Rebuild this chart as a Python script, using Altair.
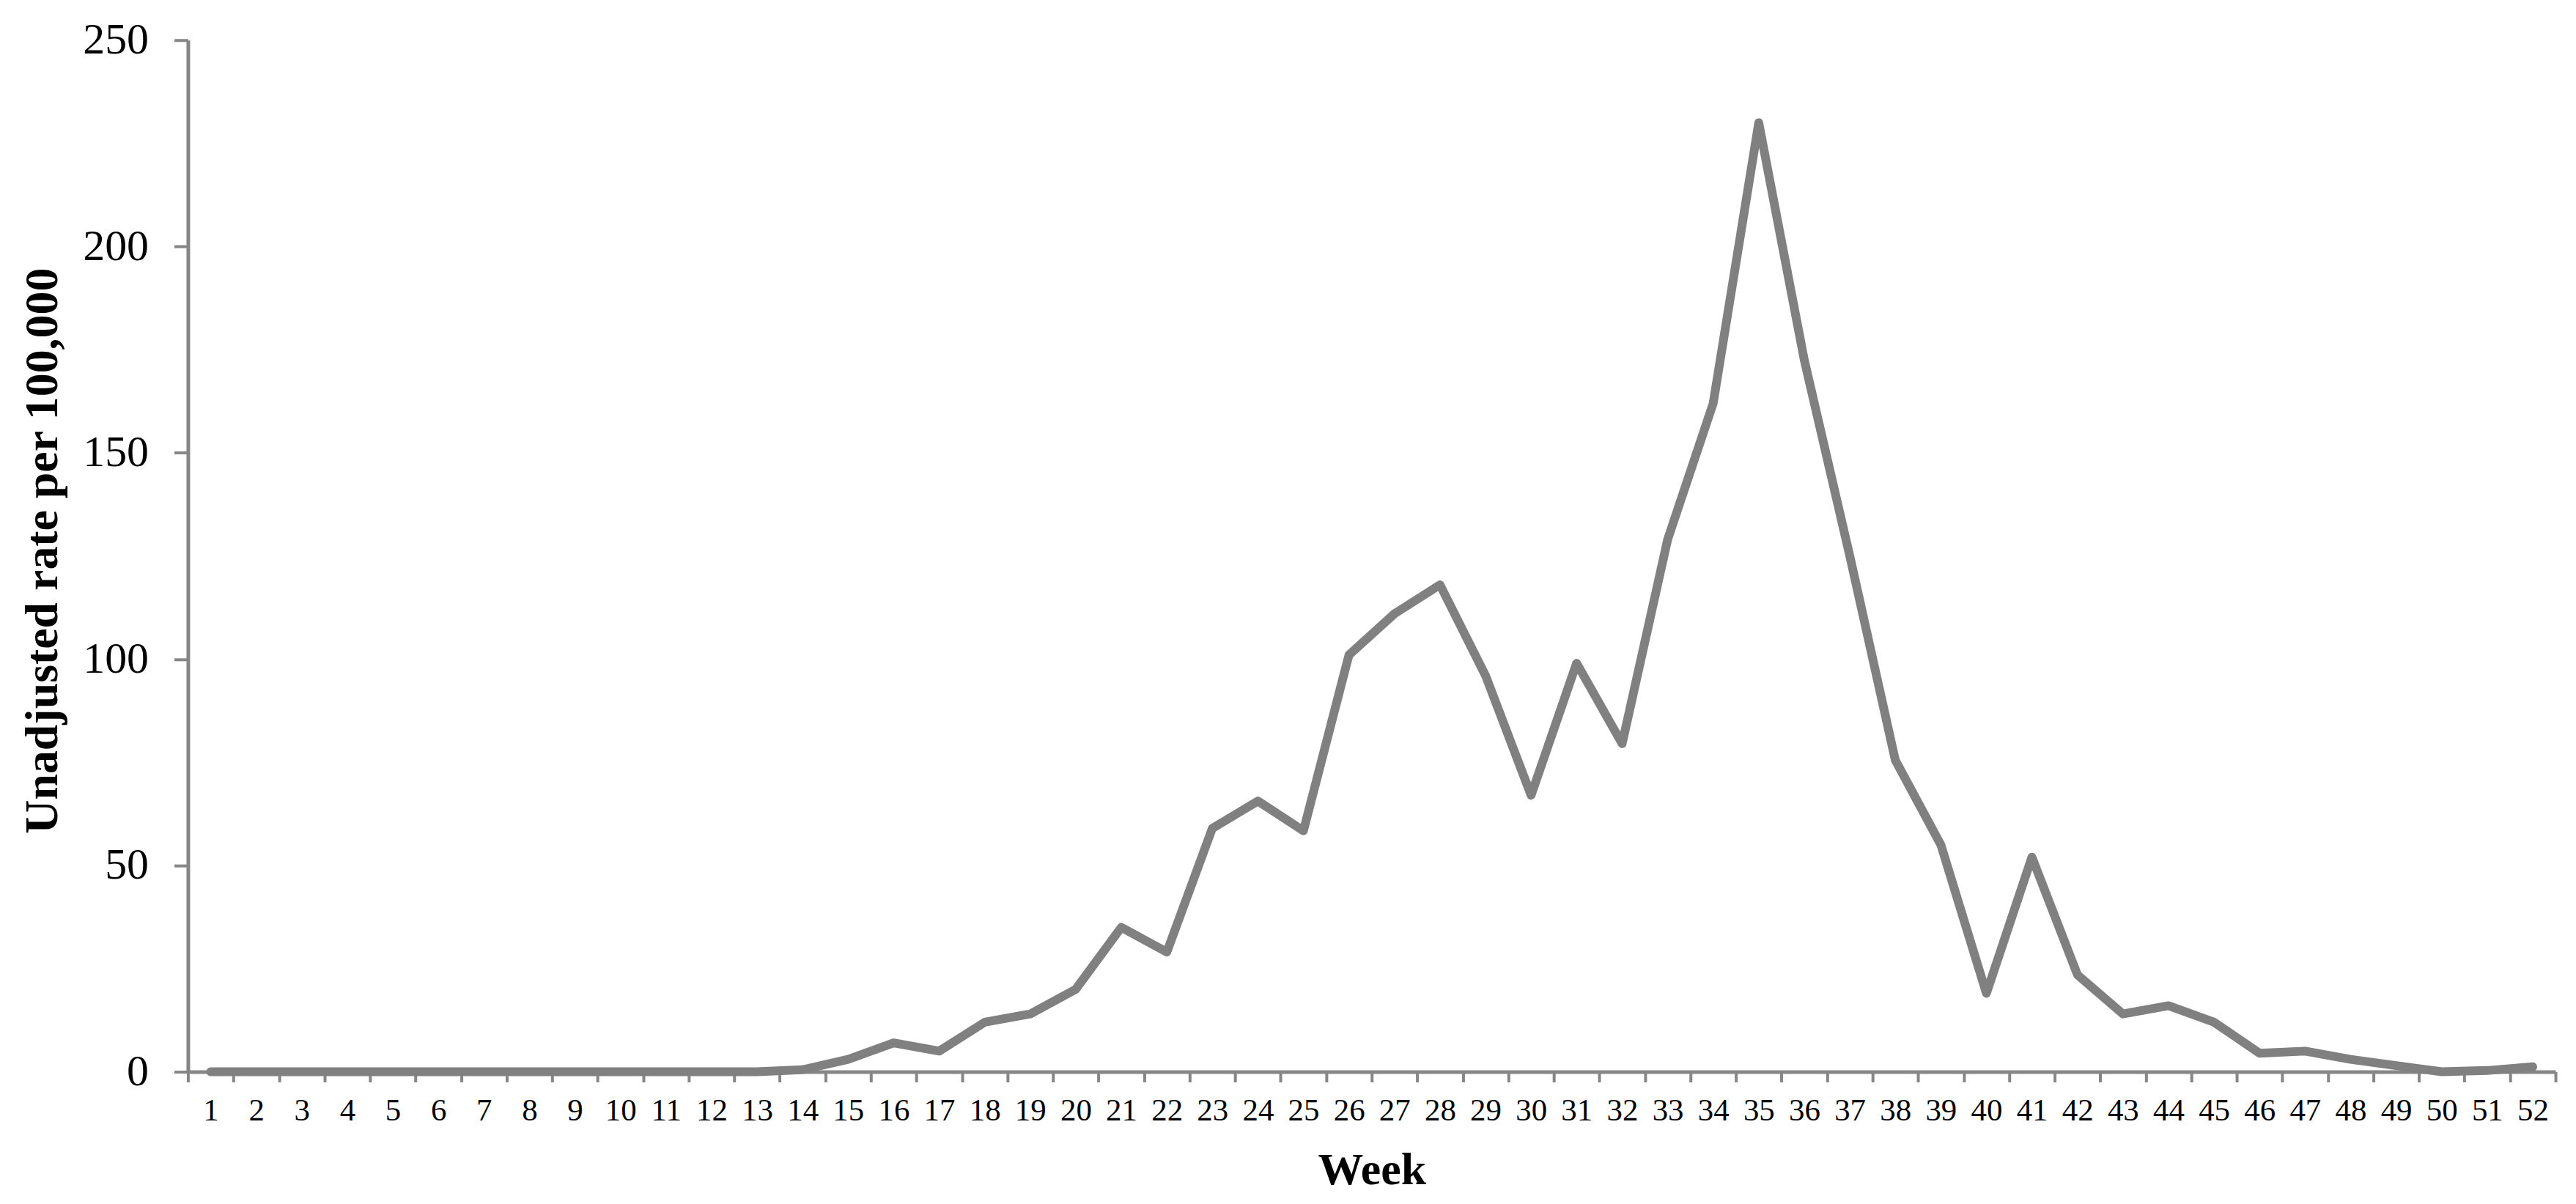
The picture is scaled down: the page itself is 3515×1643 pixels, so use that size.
import altair as alt
import pandas as pd

weeks = list(range(1, 53))
rates = [0, 0, 0, 0, 0, 0, 0, 0, 0, 0, 0, 0, 0,
         0.5, 3, 7, 5, 12, 14, 20, 35, 29, 59, 65.6, 58.4, 101, 111, 118,
         96, 67, 99, 79.5, 129, 162, 230, 172.5, 125, 75.5, 55, 19, 52,
         23.5, 14, 16, 12, 4.5, 5, 3, 1.5, 0, 0.3, 1.2]
y_ticks = [0, 50, 100, 150, 200, 250]

df = pd.DataFrame({"Week": weeks, "Rate": rates})

AX = "#868686"
FONT = "Liberation Serif"
W, H = 3238, 1411

chart = alt.Chart(df).mark_line(
    color="#808080", strokeWidth=12, strokeCap="round", strokeJoin="round"
).encode(
    x=alt.X(
        "Week:O",
        scale=alt.Scale(type="band", paddingInner=0, paddingOuter=0),
        axis=alt.Axis(
            title="Week", tickBand="extent", labelAngle=0,
            labelFont=FONT, labelFontSize=43, labelColor="black", labelPadding=18,
            tickSize=14, tickWidth=4, tickColor=AX,
            domainColor=AX, domainWidth=5,
            titleFont=FONT, titleFontSize=62, titleFontWeight="bold", titleColor="black",
            titleBaseline="alphabetic", titleX=W / 2, titleY=153, grid=False,
        ),
    ),
    y=alt.Y(
        "Rate:Q",
        scale=alt.Scale(domain=[0, 250], nice=False, zero=True),
        axis=alt.Axis(
            values=y_ticks, title="Unadjusted rate per 100,000",
            labelFont=FONT, labelFontSize=60, labelColor="black", labelPadding=35,
            tickSize=19, tickWidth=4, tickColor=AX,
            domainColor=AX, domainWidth=5,
            titleFont=FONT, titleFontSize=64, titleFontWeight="bold", titleColor="black",
            titleAngle=270, titleBaseline="alphabetic", titleX=-179, titleY=698,
            grid=False,
        ),
    ),
).properties(
    width=W, height=H,
    padding={"left": 249, "top": 45, "right": 20, "bottom": 170},
    autosize=alt.AutoSizeParams(type="none"),
).configure_view(stroke=None)

chart.save("out.html", embed_options={"renderer": "svg", "actions": False})
